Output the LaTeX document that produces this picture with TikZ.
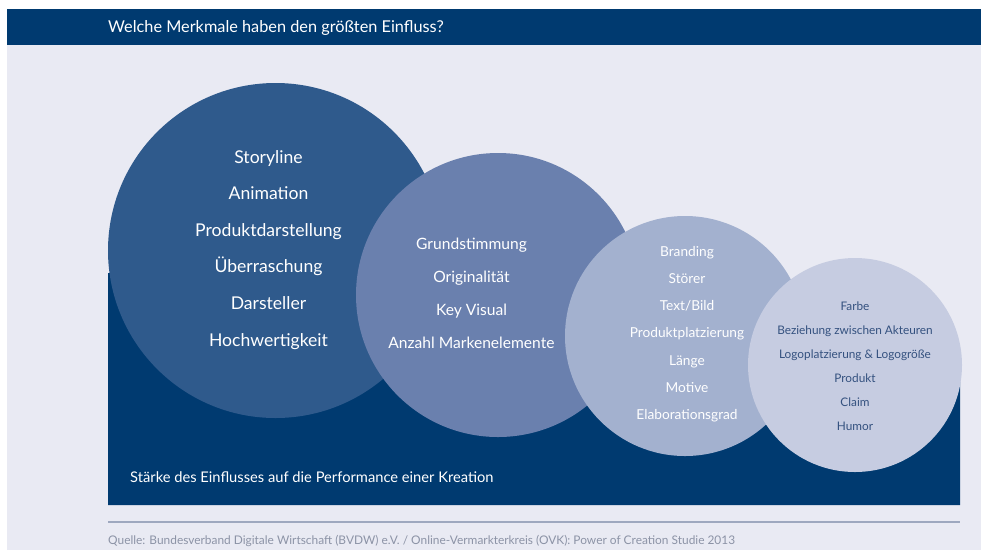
\documentclass[tikz,border=0pt]{standalone}
\usepackage{fontspec}
\setmainfont{Lato}
\begin{document}
\begin{tikzpicture}[x=1pt,y=-1pt,
  bubble/.style={circle,draw=none,inner sep=0pt,minimum size=#1},
  lbl/.style={anchor=center,text height=0.7em,text depth=0.2em,inner sep=0pt,align=center}]
\definecolor{navy}{HTML}{003A70}
\definecolor{paper}{HTML}{E9EAF3}
\definecolor{tone1}{HTML}{2F5A8C}
\definecolor{tone2}{HTML}{6A80AE}
\definecolor{tone3}{HTML}{A3B1CF}
\definecolor{tone4}{HTML}{C6CCE1}
\definecolor{ink4}{HTML}{34517F}
\definecolor{rule}{HTML}{9EA8BF}
\definecolor{note}{HTML}{8C93A6}
\useasboundingbox (0,0) rectangle (981,550);
\fill[white] (0,0) rectangle (981,550);
% page background and heading bar
\fill[paper] (7,45) rectangle (981,550);
\fill[navy] (7,9) rectangle (981,45);
\node[anchor=base west,text=white,font=\fontsize{16.3}{19}\selectfont,inner sep=0pt] (title) at (108,32.5) {Welche Merkmale haben den größten Einfluss?};
% dark base area under the bubbles
\fill[navy] (108,273) -- (960,382) -- (960,505) -- (108,505) -- cycle;
% bubbles, largest first
\node[bubble=335pt,fill=tone1] (b1) at (275.5,250.5) {};
\node[bubble=284pt,fill=tone2] (b2) at (498,295) {};
\node[bubble=240pt,fill=tone3] (b3) at (685,336) {};
\node[bubble=214pt,fill=tone4] (b4) at (855,365) {};
% bubble contents
\foreach \t [count=\i] in {Storyline,Animation,Produktdarstellung,\"Uberraschung,Darsteller,Hochwertigkeit}
  \node[lbl,text=white,font=\fontsize{17.6}{21}\selectfont] (t1\i) at (268.5,{160.5+36.6*(\i-1)}) {\t};
\foreach \t [count=\i] in {Grundstimmung,Originalit\"at,Key Visual,Anzahl Markenelemente}
  \node[lbl,text=white,font=\fontsize{15.6}{19}\selectfont] (t2\i) at (471.5,{246.5+33*(\i-1)}) {\t};
\foreach \t [count=\i] in {Branding,St\"orer,Text/Bild,Produktplatzierung,L\"ange,Motive,Elaborationsgrad}
  \node[lbl,text=white,font=\fontsize{13.7}{16}\selectfont] (t3\i) at (687,{253.5+27.3*(\i-1)}) {\t};
\foreach \t [count=\i] in {Farbe,Beziehung zwischen Akteuren,Logoplatzierung \& Logogr\"o\ss e,Produkt,Claim,Humor}
  \node[lbl,text=ink4,font=\fontsize{11.8}{14}\selectfont] (t4\i) at (855,{308+24*(\i-1)}) {\t};
% caption inside the base area
\node[lbl,anchor=west,text=white,font=\fontsize{14.7}{17}\selectfont] (cap) at (130,480) {Stärke des Einflusses auf die Performance einer Kreation};
% source line
\coordinate (rl) at (108,522);
\coordinate (rr) at (960,522);
\draw[rule,line width=2pt] (rl) -- (rr);
\node[lbl,anchor=west,text=note,font=\fontsize{11.9}{14}\selectfont] (src) at (108,542) {Quelle: Bundesverband Digitale Wirtschaft (BVDW) e.V. / Online-Vermarkterkreis (OVK): Power of Creation Studie 2013};
\end{tikzpicture}
\end{document}
